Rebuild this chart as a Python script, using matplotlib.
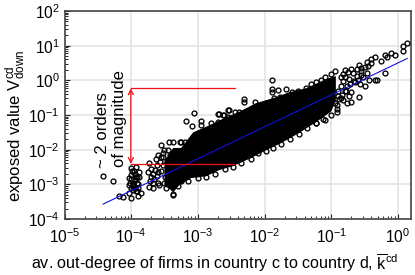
import numpy as np
import matplotlib
matplotlib.use("Agg")
import matplotlib.pyplot as plt

plt.rcParams['font.family'] = ['Liberation Sans', 'DejaVu Sans']
plt.rcParams['mathtext.fontset'] = 'custom'
plt.rcParams['mathtext.rm'] = 'Liberation Sans'
plt.rcParams['mathtext.it'] = 'Liberation Sans'
plt.rcParams['mathtext.default'] = 'regular'

# log10 of values: individually visible points
pts_log_k = [-4.42,-4.28,-4.19,-4.12,-4.01,-3.90,-3.85,-4.03,-4.0,-3.93,-3.88,-4.04,-3.97,-3.90,-4.03,
             -3.95,-3.92,-4.0,-3.97,-3.93,-3.90,-4.02,-3.96,-3.91,-4.0,-3.94,
             -3.73,-3.63,-3.55,-3.51,-3.43,-3.37,-3.25,-3.70,-3.73,-3.67,-3.37,-3.75,-3.60,-3.51,-3.25,
             -3.70,-3.67,-3.72,-3.68,-3.65,-3.62,-3.66,-3.60,-3.57,-3.62,-3.55,-3.58,-3.60,-3.52,
             -3.27,-3.18,-3.09,-3.06,-2.95,-2.95,-2.80,-2.70,-2.68,-2.62,-2.61,-2.55,-2.54,-2.55,-2.45,-2.39,
             -2.31,-2.31,-2.24,-2.15,-2.13,-1.98,-1.89,-1.89,-1.89,-1.86,-1.80,-1.77,-1.68,-1.59,-1.53,
             -1.38,-1.23,-1.09,-1.01,-0.95,-0.79,-0.71,-0.58,-0.56,-0.46,-0.40,-0.35,-0.26,-0.20,-0.16,-0.10,-0.04,
             0.07,0.14,0.08,-0.19,-0.35,-0.32,-0.43,-0.49,-0.59,-0.70,-0.77,-0.82,-0.73,-0.92,-0.92,-1.0,-1.09,-1.23,
             -3.48,-3.37,-3.30,-3.15,-3.0,-2.88,-2.75,-2.60,-2.48,-2.35,-2.21,-2.10,-1.98,-1.88,-1.76,-1.62,-1.49,-1.36,-1.23,-1.12,
             -0.86,-0.82,-0.75,-0.68,-0.62,-0.55,-0.50,-0.45,-0.40,-0.72,-0.65,-0.60,-0.52,-0.47,-0.78,-0.70,-0.57,
             -1.50,-1.30,-1.15,-2.0,-2.2,-2.4,-2.7,-3.0,-3.2,
             -0.92,-0.88,-0.84,-0.80,-0.76,-0.90,-0.86,-0.83,-0.79,-0.74,-0.95,-0.90,-0.85,-0.66,-0.62,-0.56,
             -3.99,-3.95,-3.91,-3.98,-3.94,-3.89,-4.01,-3.97,-3.93,
             -3.45,-3.42,-3.40,-3.47,-3.53,-3.56,-3.50,-3.44,-3.46,-3.52]
pts_log_v = [-2.77,-2.91,-3.34,-3.37,-3.40,-3.34,-3.26,-2.82,-2.54,-2.51,-2.65,-3.03,-3.17,-3.11,-3.26,
             -2.70,-2.95,-2.85,-3.05,-2.80,-3.00,-2.95,-2.62,-3.20,-3.12,-2.88,
             -2.39,-2.28,-1.87,-2.02,-1.79,-1.79,-1.79,-2.80,-3.08,-3.11,-3.31,-2.65,-2.65,-2.97,-2.91,
             -2.55,-2.70,-2.90,-2.95,-2.60,-2.45,-2.85,-2.95,-2.35,-2.75,-2.20,-3.02,-2.15,-2.10,
             -1.79,-1.18,-1.33,-0.95,-1.18,-1.30,-1.24,-0.98,-0.98,-1.01,-1.01,-0.86,-0.86,-1.07,-0.92,-0.92,
             -0.55,-0.63,-0.92,-0.63,-0.81,-0.66,-0.00,-0.26,-0.35,-0.52,-0.29,-0.49,-0.26,-0.35,-0.37,
             -0.23,-0.06,0.09,0.17,0.26,0.29,0.32,0.43,0.35,0.52,0.61,0.66,0.55,0.72,0.66,0.78,0.72,
             0.98,1.07,0.84,0.20,0.00,0.00,0.00,-0.17,-0.49,-0.63,-0.66,-0.58,-0.46,-0.92,-0.84,-1.01,-1.15,-1.24,
             -3.12,-3.28,-3.05,-2.90,-2.82,-2.80,-2.70,-2.55,-2.50,-2.38,-2.28,-2.10,-2.04,-1.95,-1.85,-1.70,-1.55,-1.38,-1.24,-1.12,
             0.10,0.18,0.25,0.22,0.33,0.28,0.38,0.40,0.50,-0.10,-0.05,0.02,0.10,0.22,-0.30,-0.35,-0.10,
             -0.30,-0.12,0.02,-0.72,-0.88,-1.0,-1.20,-1.55,-1.78,
             -0.70,-0.55,-0.42,-0.30,-0.15,-0.30,-0.15,-0.02,0.10,0.05,-0.65,-0.45,-0.50,-0.02,0.12,0.15,
             -2.62,-2.70,-2.80,-3.02,-3.10,-2.78,-2.72,-2.95,-3.20,
             -2.00,-2.15,-2.45,-2.30,-2.45,-2.62,-2.80,-2.90,-3.00,-2.20]

# log10 envelope of the solid black core of the cloud
core_up_log_k = [-3.50,-3.37,-3.25,-3.07,-2.83,-2.58,-2.36,-2.13,-1.83,-1.64,-1.38,-1.06,-0.93]
core_up_log_v = [-2.35,-1.95,-1.95,-1.50,-1.30,-1.07,-0.89,-0.66,-0.49,-0.35,-0.23,0.05,0.12]
core_lo_log_k = [-3.50,-3.37,-3.28,-3.10,-2.88,-2.68,-2.48,-2.21,-1.98,-1.76,-1.49,-1.23,-1.00,-0.93]
core_lo_log_v = [-3.00,-3.23,-3.03,-2.82,-2.77,-2.59,-2.48,-2.25,-2.02,-1.82,-1.53,-1.21,-0.90,-0.60]

fit_log_k = [-4.42, 0.14]
fit_log_v = [-3.57, 0.63]

x_ticks = [1e-5, 1e-4, 1e-3, 1e-2, 1e-1, 1e0]
x_labels = ['$10^{-5}$', '$10^{-4}$', '$10^{-3}$', '$10^{-2}$', '$10^{-1}$', '$10^{0}$']
y_ticks = [1e-4, 1e-3, 1e-2, 1e-1, 1e0, 1e1, 1e2]
y_labels = ['$10^{-4}$', '$10^{-3}$', '$10^{-2}$', '$10^{-1}$', '$10^{0}$', '$10^{1}$', '$10^{2}$']

fig = plt.figure(figsize=(4.15, 2.75), dpi=100)
W, H = 415, 275
ax = fig.add_axes([64.5 / W, 1 - 219 / H, (411 - 64.5) / W, (219 - 11) / H])
ax.set_xscale('log')
ax.set_yscale('log')
ax.set_xlim(10 ** -4.98, 10 ** 0.197)
ax.set_ylim(1e-4, 1e2)

ax.set_axisbelow(True)
ax.grid(True, which='major', color='#e6e6e6', lw=1.3)

core_x = 10.0 ** np.array(core_up_log_k + core_lo_log_k[::-1])
core_y = 10.0 ** np.array(core_up_log_v + core_lo_log_v[::-1])
ax.fill(core_x, core_y, color='black', lw=0, zorder=2)
ax.plot(10.0 ** np.array(pts_log_k), 10.0 ** np.array(pts_log_v), ls='none', marker='o',
        ms=3.5, mfc='none', mec='black', mew=0.95, zorder=3)
ax.plot(10.0 ** np.array(fit_log_k), 10.0 ** np.array(fit_log_v), color='#1010e0', lw=0.8, zorder=4)

# red annotation
top, bot = 10 ** -0.23, 10 ** -2.41
ax.plot([1e-4, 10 ** -2.45], [top, top], color='#f01010', lw=0.9, zorder=5)
ax.plot([1e-4, 10 ** -2.46], [bot, bot], color='#f01010', lw=0.9, zorder=5)
ax.annotate('', xy=(10 ** -4.005, top), xytext=(10 ** -4.005, bot), zorder=5,
            arrowprops=dict(arrowstyle='<->', color='#f01010', lw=0.9, shrinkA=0, shrinkB=0,
                            mutation_scale=9))
ax.text(10 ** -4.43, 10 ** -1.44, '~ 2 orders', rotation=90, fontsize=12, ha='center', va='center')
ax.text(10 ** -4.18, 10 ** -1.11, 'of magnitude', rotation=90, fontsize=12, ha='center', va='center')

ax.set_xticks(x_ticks)
ax.set_xticklabels(x_labels)
ax.set_yticks(y_ticks)
ax.set_yticklabels(y_labels)
ax.tick_params(axis='both', which='major', direction='in', length=3.5, width=0.8, color='#222222',
               labelsize=11.2, top=False, right=False)
ax.tick_params(axis='x', which='major', pad=6)
ax.tick_params(axis='y', which='major', pad=3.5)
ax.tick_params(axis='both', which='minor', direction='in', length=2.2, width=0.7, color='#222222',
               top=False, right=False)
ax.xaxis.set_minor_locator(matplotlib.ticker.LogLocator(10, subs=range(2, 10), numticks=20))
ax.yaxis.set_minor_locator(matplotlib.ticker.LogLocator(10, subs=range(2, 10), numticks=20))
ax.xaxis.set_minor_formatter(matplotlib.ticker.NullFormatter())
ax.yaxis.set_minor_formatter(matplotlib.ticker.NullFormatter())
for s in ax.spines.values():
    s.set_color('#444444')
    s.set_linewidth(1.2)

fig.text(215 / W, 1 - 263 / H, r'av. out-degree of firms in country c to country d, $\overline{k}^{cd}$',
         fontsize=11.6, ha='center', va='center')
fig.text(15.5 / W, 1 - 126 / H, r'exposed value $V^{cd}_{down}$', rotation=90, fontsize=12,
         ha='center', va='center')

fig.savefig('out.png', dpi=100)
